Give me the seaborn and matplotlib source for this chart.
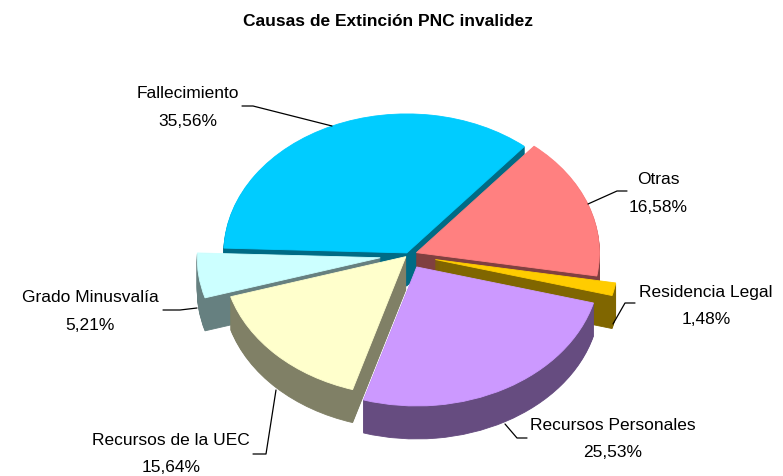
import matplotlib
matplotlib.use("Agg")
import matplotlib.pyplot as plt
from matplotlib.lines import Line2D
import seaborn as sns

sns.set_style("white")
plt.rcParams['font.family'] = ['Liberation Sans', 'DejaVu Sans']
plt.rcParams['text.color'] = 'black'

categories = ["Fallecimiento", "Grado Minusvalía", "Recursos de la UEC",
              "Recursos Personales", "Residencia Legal", "Otras"]
values = [35.56, 5.21, 15.64, 25.53, 1.48, 16.58]
top_colors = ["#00CCFF", "#CCFFFF", "#FFFFCC", "#CC99FF", "#FFCC00", "#FF8080"]
wall_colors = ["#006B85", "#668080", "#808066", "#664C80", "#806600", "#804040"]

W, H = 783, 477
cx, cy = 408, 256      # pie centre, pixels
rx, ry = 183, 139      # squashed radii, pixels
depth = 33             # wall height, pixels
explode = [3 / rx, 28 / rx, 3 / rx, 18 / rx, 28 / rx, 9 / rx]
draw_order = [1, 3, 5, 6, 4, 2]   # back slices first

fig = plt.figure(figsize=(W / 100, H / 100), dpi=100)
ax = fig.add_axes([0, 0, 1, 1])

# stack of pies for the walls, top one last
for d in range(depth, -1, -1):
    cols = top_colors if d == 0 else wall_colors
    wedges, _ = ax.pie(values, explode=explode, colors=cols, startangle=50,
                       center=(0, -d / ry), frame=False)
    for w, z, c in zip(wedges, draw_order, cols):
        w.set_edgecolor(c)
        w.set_linewidth(0.6)
        w.set_zorder(z + (depth - d) / 100)

ax.set_aspect('auto')
ax.set_xlim(-cx / rx, (W - cx) / rx)
ax.set_ylim(-(H - cy) / ry, cy / ry)
ax.axis('off')


def px(x, y):
    return x / W, 1 - y / H


fig.text(*px(388, 22), "Causas de Extinción PNC invalidez", fontsize=12.5,
         fontweight='bold', ha='center', va='center')

label_pos = [(188, 94), (90, 298), (171, 441), (613, 426), (706, 292), (658, 180)]
leaders = [
    [(332, 127), (253, 107), (242, 107)],
    [(197, 309), (180, 311), (163, 311)],
    [(276, 391), (266, 455), (253, 455)],
    [(505, 425), (517, 439), (527, 439)],
    [(613, 325), (625, 304), (635, 304)],
    [(588, 205), (617, 192), (627, 192)],
]

for name, v, (x, y), pts in zip(categories, values, label_pos, leaders):
    fig.text(*px(x, y), name, fontsize=12.5, ha='center', va='center')
    fig.text(*px(x, y + 27), f"{v:.2f}".replace('.', ',') + "%", fontsize=12.5,
             ha='center', va='center')
    xs = [p[0] / W for p in pts]
    ys = [1 - p[1] / H for p in pts]
    fig.add_artist(Line2D(xs, ys, color='black', lw=0.9))

fig.savefig("out.png", dpi=100)
